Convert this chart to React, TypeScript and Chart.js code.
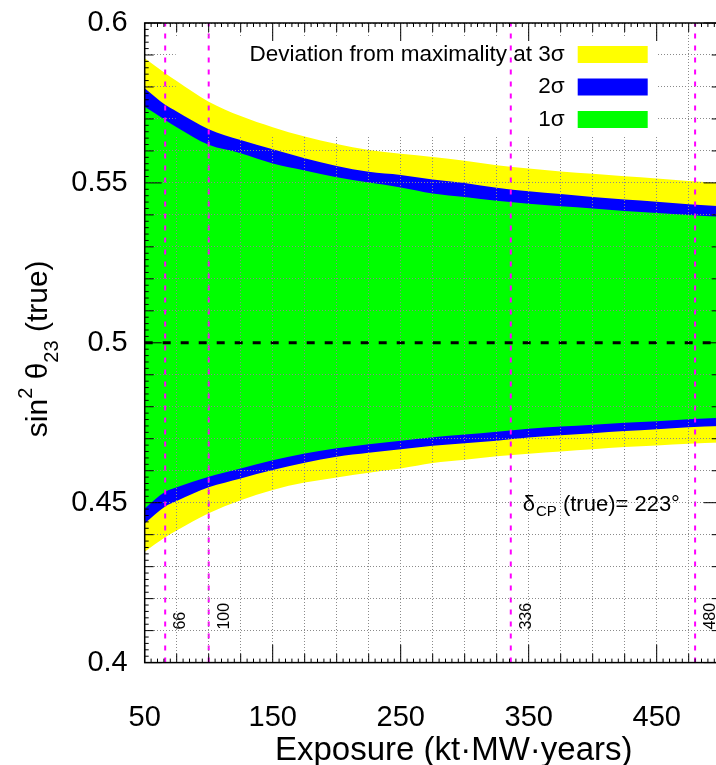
import { useEffect, useRef } from 'react'
import { Chart, registerables } from 'chart.js'

Chart.register(...registerables)

const FONT = '"Liberation Sans", Arial, Helvetica, sans-serif'

const exposure = [50, 66, 75, 100, 125, 150, 175, 200, 225, 250, 275, 300, 325, 350, 375, 400, 425, 450, 475, 500]

// sin^2 theta23 (true) band edges
const sigma3Upper = [0.589, 0.5843, 0.5819, 0.5754, 0.5709, 0.5674, 0.5645, 0.5622, 0.5603, 0.5591, 0.5581, 0.5569, 0.5555, 0.5545, 0.5536, 0.5529, 0.5521, 0.5514, 0.5506, 0.55]
const sigma2Upper = [0.5796, 0.5744, 0.5723, 0.5668, 0.5634, 0.5605, 0.5577, 0.5553, 0.5535, 0.5525, 0.5511, 0.55, 0.5485, 0.5474, 0.5465, 0.5456, 0.5448, 0.5441, 0.5433, 0.5427]
const sigma1Upper = [0.5738, 0.5697, 0.5674, 0.5619, 0.5593, 0.5561, 0.5539, 0.5518, 0.5501, 0.5486, 0.5467, 0.5456, 0.5444, 0.5435, 0.5427, 0.542, 0.5412, 0.5406, 0.54, 0.5394]
const sigma1Lower = [0.4482, 0.4534, 0.4548, 0.4581, 0.4607, 0.4633, 0.4654, 0.467, 0.4683, 0.4694, 0.4705, 0.4713, 0.4722, 0.4731, 0.4738, 0.4744, 0.475, 0.4755, 0.4761, 0.4766]
const sigma2Lower = [0.4435, 0.4488, 0.4505, 0.4548, 0.4576, 0.4602, 0.4625, 0.4644, 0.4656, 0.4667, 0.4678, 0.4686, 0.4694, 0.4704, 0.4711, 0.4717, 0.4724, 0.473, 0.4736, 0.474]
const sigma3Lower = [0.4347, 0.4392, 0.4413, 0.4467, 0.4508, 0.454, 0.4563, 0.4579, 0.4594, 0.4607, 0.4624, 0.4634, 0.4645, 0.4653, 0.466, 0.4667, 0.4674, 0.4679, 0.4684, 0.4688]

const markerExposures = [66, 100, 336, 480]
const maximalMixing = 0.5
const deltaCpTrue = 223

const xLabelTicks = [50, 150, 250, 350, 450]
const yLabelTicks = [0.4, 0.45, 0.5, 0.55, 0.6]

const legendLabels = ['Deviation from maximality at 3σ', '2σ', '1σ']
const legendColors = ['#ffff00', '#0000ff', '#00ff00']

const X_MIN = 50
const X_MAX = 500
const Y_MIN = yLabelTicks[0]
const Y_MAX = yLabelTicks[yLabelTicks.length - 1]
const GRID = '#8a8a8a'

// legend box (px from chart area corner), grid is hidden behind it
const LEGEND = { left: 31, top: 15, right: 513, bottom: 114 }

const toPoints = (ys: number[]) => exposure.map((x, i) => ({ x, y: ys[i] }))

const band = (data: number[], color: string, fill: string | boolean) => ({
  data: toPoints(data),
  backgroundColor: color,
  borderColor: 'transparent',
  borderWidth: 0,
  pointRadius: 0,
  fill,
  cubicInterpolationMode: 'monotone' as const,
})

const vline = (x: number) => ({
  data: [{ x, y: Y_MIN }, { x, y: Y_MAX }],
  borderColor: '#ff00ff',
  borderWidth: 2,
  borderDash: [5, 7],
  pointRadius: 0,
  fill: false,
})

function drawRich(ctx: CanvasRenderingContext2D, parts: Array<[string, number, number]>, x0: number, y0: number) {
  let total = 0
  for (const [text, size] of parts) {
    ctx.font = `${size}px ${FONT}`
    total += ctx.measureText(text).width
  }
  let x = x0 - total / 2
  for (const [text, size, shift] of parts) {
    ctx.font = `${size}px ${FONT}`
    ctx.fillText(text, x, y0 + shift)
    x += ctx.measureText(text).width
  }
}

const rootStyle = {
  id: 'rootStyle',
  afterDatasetsDraw(chart: any) {
    // grid layer (z: 1) comes next; keep it out of the legend box
    const { ctx, chartArea: a, width, height } = chart
    ctx.save()
    ctx.beginPath()
    ctx.rect(0, 0, width, height)
    ctx.rect(a.left + LEGEND.left, a.top + LEGEND.top, LEGEND.right - LEGEND.left, LEGEND.bottom - LEGEND.top)
    ctx.clip('evenodd')
  },
  afterDraw(chart: any) {
    const { ctx, chartArea: a, scales } = chart
    const x = scales.x
    const y = scales.y
    ctx.restore()
    ctx.save()

    // inner tick marks on all four sides
    ctx.strokeStyle = '#000'
    ctx.lineWidth = 1
    ctx.beginPath()
    for (let i = 0; i <= 100; i++) {
      const py = y.getPixelForValue(Y_MIN + i * 0.002)
      const len = i % 25 === 0 ? 17 : i % 5 === 0 ? 9 : 4
      ctx.moveTo(a.left, py)
      ctx.lineTo(a.left + len, py)
      ctx.moveTo(a.right, py)
      ctx.lineTo(a.right - len, py)
    }
    for (let i = 0; i <= 90; i++) {
      const px = x.getPixelForValue(X_MIN + i * 5)
      const len = i % 20 === 0 ? 18 : i % 5 === 0 ? 9 : 4
      ctx.moveTo(px, a.bottom)
      ctx.lineTo(px, a.bottom - len)
      ctx.moveTo(px, a.top)
      ctx.lineTo(px, a.top + len)
    }
    ctx.stroke()
    ctx.lineWidth = 1.5
    ctx.strokeRect(a.left, a.top, a.right - a.left, a.bottom - a.top)

    ctx.fillStyle = '#000'

    // exposure marker labels
    ctx.font = `16px ${FONT}`
    ctx.textAlign = 'left'
    ctx.textBaseline = 'alphabetic'
    markerExposures.forEach((m) => {
      ctx.save()
      ctx.translate(x.getPixelForValue(m) + 20, a.bottom - 33)
      ctx.rotate(-Math.PI / 2)
      ctx.fillText(String(m), 0, 0)
      ctx.restore()
    })

    // legend
    ctx.font = `22.5px ${FONT}`
    ctx.textAlign = 'right'
    ctx.textBaseline = 'middle'
    legendLabels.forEach((label, i) => {
      const cy = a.top + 31.5 + i * 32.5
      ctx.fillStyle = '#000'
      ctx.fillText(label, a.left + 420, cy)
      ctx.fillStyle = legendColors[i]
      ctx.fillRect(a.left + 433, cy - 8.5, 70, 17)
    })

    // delta_CP annotation
    ctx.fillStyle = '#000'
    ctx.textAlign = 'left'
    ctx.textBaseline = 'alphabetic'
    let tx = a.left + 378
    const by = a.top + 488
    ctx.font = `22px ${FONT}`
    ctx.fillText('δ', tx, by)
    tx += ctx.measureText('δ').width + 1
    ctx.font = `15px ${FONT}`
    ctx.fillText('CP', tx, by + 5)
    tx += ctx.measureText('CP').width
    ctx.font = `22px ${FONT}`
    ctx.fillText(` (true)= ${deltaCpTrue}°`, tx, by)

    // axis titles
    ctx.font = `33px ${FONT}`
    ctx.textAlign = 'center'
    ctx.fillText('Exposure (kt·MW·years)', a.left + 309, 760)
    ctx.textAlign = 'left'
    ctx.save()
    ctx.translate(47, (a.top + a.bottom) / 2 + 6)
    ctx.rotate(-Math.PI / 2)
    drawRich(ctx, [['sin', 30, 0], ['2', 20, -15], [' θ', 30, 0], ['23', 20, 11], [' (true)', 30, 0]], 0, 0)
    ctx.restore()

    ctx.restore()
  },
}

export default function App() {
  const canvasRef = useRef<HTMLCanvasElement>(null)

  useEffect(() => {
    if (!canvasRef.current) return

    const chart = new Chart(canvasRef.current, {
      type: 'line',
      data: {
        datasets: [
          {
            data: [{ x: X_MIN, y: maximalMixing }, { x: X_MAX, y: maximalMixing }],
            borderColor: '#000',
            borderWidth: 3,
            borderDash: [8, 10],
            pointRadius: 0,
            fill: false,
          },
          ...markerExposures.map(vline),
          band(sigma1Upper, legendColors[2], '+1'),
          band(sigma1Lower, legendColors[2], false),
          band(sigma2Upper, legendColors[1], '+1'),
          band(sigma2Lower, legendColors[1], false),
          band(sigma3Upper, legendColors[0], '+1'),
          band(sigma3Lower, legendColors[0], false),
        ],
      },
      options: {
        animation: false,
        responsive: true,
        maintainAspectRatio: false,
        events: [],
        layout: { padding: { top: 23, right: 9.3, left: 0, bottom: 0 } },
        plugins: {
          legend: { display: false },
          tooltip: { enabled: false },
        },
        scales: {
          x: {
            type: 'linear',
            min: X_MIN,
            max: X_MAX,
            afterFit: (s: any) => {
              s.height = 102.4
              s.paddingLeft = 0
              s.paddingRight = 0
            },
            grid: { color: GRID, lineWidth: 1, drawTicks: false, z: 1 },
            border: { display: false, dash: [1, 2] },
            ticks: {
              stepSize: 25,
              autoSkip: false,
              maxRotation: 0,
              padding: 38,
              color: '#000',
              font: { family: FONT, size: 29 },
              callback: (v: any) => (xLabelTicks.includes(Number(v)) ? String(v) : ''),
            },
          },
          y: {
            type: 'linear',
            min: Y_MIN,
            max: Y_MAX,
            afterFit: (s: any) => {
              s.width = 144.7
              s.paddingTop = 0
              s.paddingBottom = 0
            },
            grid: {
              // keep the dashed 0.5 line solid black
              color: (c: any) => (Math.abs(c.tick.value - maximalMixing) < 1e-6 ? 'transparent' : GRID),
              lineWidth: 1,
              drawTicks: false,
              z: 1,
            },
            border: { display: false, dash: [1, 2] },
            ticks: {
              stepSize: 0.01,
              autoSkip: false,
              padding: 17,
              color: '#000',
              font: { family: FONT, size: 29 },
              callback: (v: any) => {
                const hit = yLabelTicks.find((t) => Math.abs(t - Number(v)) < 1e-6)
                return hit !== undefined ? String(hit) : ''
              },
            },
          },
        },
      },
      plugins: [rootStyle],
    } as any)

    return () => chart.destroy()
  }, [])

  return (
    <div style={{ position: 'fixed', left: 0, top: 0, width: 716, height: 765, overflow: 'hidden', background: '#fff' }}>
      <div style={{ position: 'relative', width: 730, height: 765 }}>
        <canvas ref={canvasRef} />
      </div>
    </div>
  )
}
